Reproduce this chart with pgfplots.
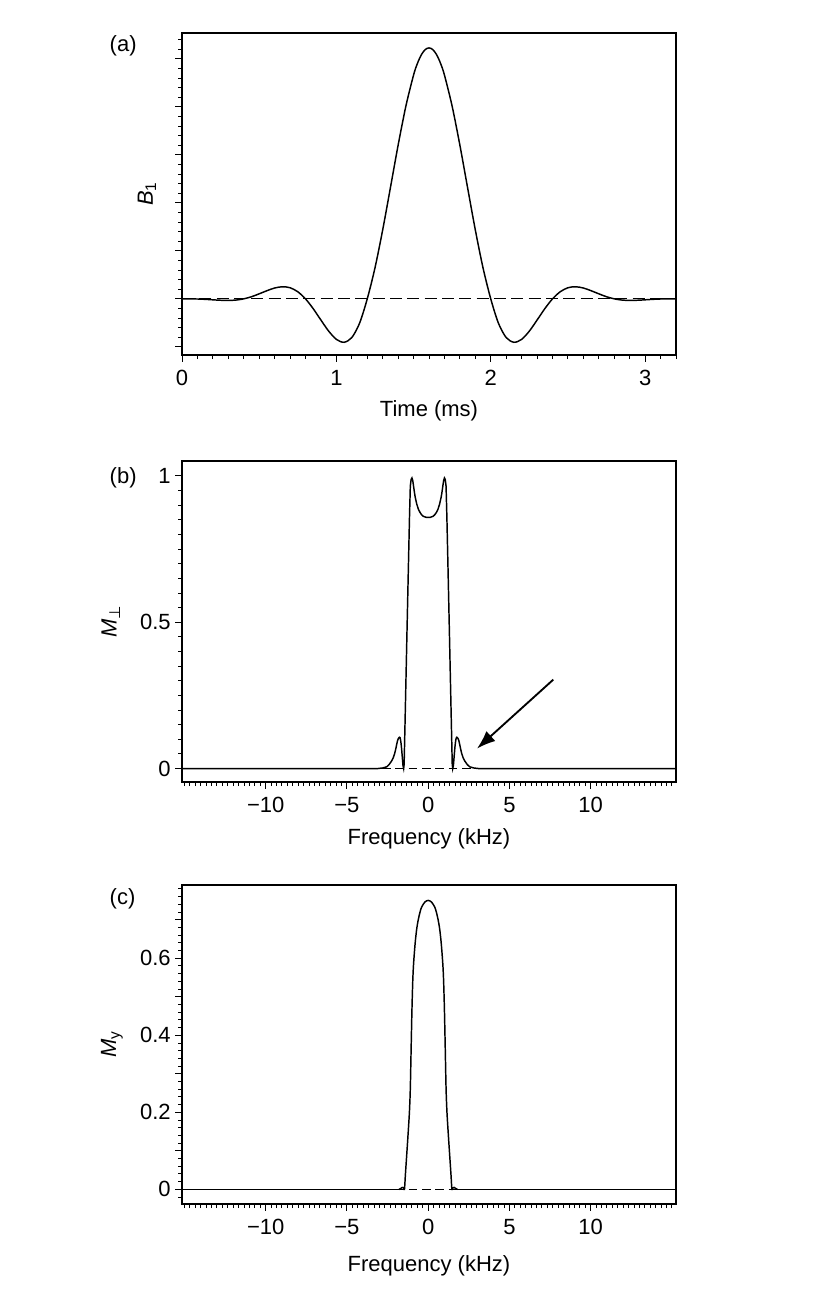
\documentclass[border=0pt]{standalone}
\usepackage{fontspec}
\setmainfont{Liberation Sans}
\newfontfamily\dejavu{DejaVu Sans}
\usepackage{pgfplots}
\pgfplotsset{compat=1.18}
\usetikzlibrary{arrows.meta}

\pgfplotsset{
  myaxis/.style={
    scale only axis,
    axis line style={line width=0.9pt},
    tick align=outside,
    tick pos=left,
    major tick length=5pt,
    minor tick length=3pt,
    tick style={line width=0.7pt, black},
    tick label style={font=\fontsize{16.5}{19}\selectfont},
    xticklabel style={yshift=-3pt},
    label style={font=\fontsize{16.5}{19}\selectfont},
    anchor=south west,
    width=370.5pt,
  },
  curve/.style={black, line width=1.1pt, no markers},
  base/.style={black, line width=0.9pt, dash pattern=on 6.5pt off 3.5pt, no markers},
}

\begin{document}
\begin{tikzpicture}
\useasboundingbox (0pt,0pt) rectangle (617.25pt,-977.25pt);

% ---------------- (a) ----------------
\begin{axis}[myaxis,
  at={(136.5pt,-266.25pt)}, height=241.5pt,
  xmin=0, xmax=3.2, ymin=-1.17, ymax=5.54,
  xtick={0,1,2,3}, xticklabels={0,1,2,3},
  minor xtick={0,0.1,...,3.2},
  ytick={-1,0,1,2,3,4,5}, yticklabels={{},{},{},{},{},{},{}},
  minor ytick={-1,-0.8,...,5.45},
  xlabel={Time (ms)},
  ylabel={\textit{B}\textsubscript{1}},
  xlabel style={at={(axis description cs:0.5,-0.174)}, anchor=center},
  ylabel style={at={(axis description cs:-0.071,0.5)}, anchor=center},
]
\addplot[base, dash pattern=on 9pt off 4pt] coordinates {(0,0) (3.2,0)};
\addplot[curve, smooth] coordinates {
(0.00,0) (0.05,-0.001) (0.10,-0.003) (0.15,-0.010) (0.20,-0.020) (0.25,-0.029)
(0.30,-0.033) (0.35,-0.025) (0.40,0) (0.45,0.044) (0.50,0.105) (0.55,0.170)
(0.60,0.226) (0.65,0.252) (0.70,0.232) (0.75,0.148) (0.80,0) (0.85,-0.205)
(0.90,-0.442) (0.95,-0.672) (1.00,-0.844) (1.05,-0.905) (1.10,-0.806) (1.15,-0.509)
(1.20,0) (1.25,0.645) (1.30,1.437) (1.35,2.316) (1.40,3.203) (1.45,4.013)
(1.50,4.664) (1.525,4.906) (1.55,5.084) (1.575,5.193) (1.60,5.23)
(1.625,5.193) (1.65,5.084) (1.675,4.906) (1.70,4.664) (1.75,4.013) (1.80,3.203)
(1.85,2.316) (1.90,1.437) (1.95,0.645) (2.00,0) (2.05,-0.509) (2.10,-0.806)
(2.15,-0.905) (2.20,-0.844) (2.25,-0.672) (2.30,-0.442) (2.35,-0.205) (2.40,0)
(2.45,0.148) (2.50,0.232) (2.55,0.252) (2.60,0.226) (2.65,0.170) (2.70,0.105)
(2.75,0.044) (2.80,0) (2.85,-0.025) (2.90,-0.033) (2.95,-0.029) (3.00,-0.020)
(3.05,-0.010) (3.10,-0.003) (3.15,-0.001) (3.20,0)
};
\end{axis}

% ---------------- (b) ----------------
\begin{axis}[myaxis,
  at={(136.5pt,-586.5pt)}, height=240.75pt,
  xmin=-15.15, xmax=15.25, ymin=-0.046, ymax=1.051,
  xtick={-10,-5,0,5,10}, xticklabels={−10,−5,0,5,10},
  minor xtick={-15,-14.66667,...,15.1},
  ytick={0,0.5,1}, yticklabels={0,0.5,1},
  minor ytick={0,0.05,...,1.02},
  xlabel={Frequency (kHz)},
  ylabel={\textit{M}\textsubscript{\dejavu ⊥}},
  xlabel style={at={(axis description cs:0.5,-0.176)}, anchor=center},
  ylabel style={at={(axis description cs:-0.144,0.5)}, anchor=center},
]
\addplot[base] coordinates {(-15.15,0) (15.25,0)};
\addplot[curve] coordinates {
(-15.15,0) (-3.1,0) (-2.8,0.002) (-2.55,0.006) (-2.4,0.014) (-2.25,0.026) (-2.15,0.037)
(-2.07,0.050) (-2.0,0.066) (-1.94,0.082) (-1.88,0.097) (-1.83,0.103) (-1.79,0.106)
(-1.76,0.107) (-1.73,0.105) (-1.70,0.098) (-1.67,0.086) (-1.64,0.070) (-1.61,0.050)
(-1.58,0.030) (-1.55,0.010) (-1.51,0.0) (-1.48,0.015) (-1.4,0.22) (-1.3,0.48)
(-1.2,0.735) (-1.15,0.86) (-1.1,0.965) (-1.05,0.988) (-1.0,0.993) (-0.95,0.984)
(-0.9,0.965) (-0.85,0.945) (-0.8,0.928) (-0.7,0.903) (-0.6,0.886) (-0.5,0.875)
(-0.4,0.867) (-0.3,0.862) (-0.2,0.860) (-0.1,0.858) (0,0.858)
(0.1,0.858) (0.2,0.860) (0.3,0.862) (0.4,0.867) (0.5,0.875) (0.6,0.886)
(0.7,0.903) (0.8,0.928) (0.85,0.945) (0.9,0.965) (0.95,0.984) (1.0,0.993)
(1.05,0.988) (1.1,0.965) (1.15,0.86) (1.2,0.735) (1.3,0.48) (1.4,0.22)
(1.48,0.015) (1.51,0.0) (1.55,0.010) (1.58,0.030) (1.61,0.050) (1.64,0.070)
(1.67,0.086) (1.70,0.098) (1.73,0.105) (1.76,0.107) (1.79,0.106) (1.83,0.103)
(1.88,0.097) (1.94,0.082) (2.0,0.066) (2.07,0.050) (2.15,0.037) (2.25,0.026)
(2.4,0.014) (2.55,0.006) (2.8,0.002) (3.1,0) (15.25,0)
};
\draw[-{Latex[length=14pt,width=10pt]}, line width=1.4pt] (axis cs:7.7,0.304) -- (axis cs:3.0,0.068);
\end{axis}

% ---------------- (c) ----------------
\begin{axis}[myaxis,
  at={(136.5pt,-903pt)}, height=239.25pt,
  xmin=-15.15, xmax=15.25, ymin=-0.038, ymax=0.79,
  xtick={-10,-5,0,5,10}, xticklabels={−10,−5,0,5,10},
  minor xtick={-15,-14.66667,...,15.1},
  ytick={0,0.1,0.2,0.3,0.4,0.5,0.6,0.7}, yticklabels={0,,0.2,,0.4,,0.6,},
  minor ytick={-0.02,0,...,0.78},
  xlabel={Frequency (kHz)},
  ylabel={\textit{M}\textsubscript{y}},
  xlabel style={at={(axis description cs:0.5,-0.194)}, anchor=center},
  ylabel style={at={(axis description cs:-0.142,0.5)}, anchor=center},
]
\addplot[base] coordinates {(-15.15,0) (15.25,0)};
\addplot[curve] coordinates {(-15.15,0) (-1.8,0)};
\addplot[curve] coordinates {(1.8,0) (15.25,0)};
\addplot[curve, smooth] coordinates {
(-1.8,0) (-1.7,0.002) (-1.6,0.005) (-1.52,0.004) (-1.46,0.0) (-1.4,0.040)
(-1.3,0.103) (-1.2,0.168) (-1.15,0.205) (-1.1,0.262) (-1.05,0.365) (-1.0,0.465)
(-0.95,0.540) (-0.9,0.585) (-0.8,0.640) (-0.7,0.678) (-0.6,0.702) (-0.5,0.720)
(-0.4,0.733) (-0.2,0.746) (0,0.750) (0.2,0.746) (0.4,0.733) (0.5,0.720)
(0.6,0.702) (0.7,0.678) (0.8,0.640) (0.9,0.585) (0.95,0.540) (1.0,0.465)
(1.05,0.365) (1.1,0.262) (1.15,0.205) (1.2,0.168) (1.3,0.103) (1.4,0.040)
(1.46,0.0) (1.52,0.004) (1.6,0.005) (1.7,0.002) (1.8,0)
};
\end{axis}

\node[anchor=west, font=\fontsize{16.5}{19}\selectfont] at (78.75pt,-34.5pt) {(a)};
\node[anchor=west, font=\fontsize{16.5}{19}\selectfont] at (78.75pt,-358.5pt) {(b)};
\node[anchor=west, font=\fontsize{16.5}{19}\selectfont] at (78.75pt,-673.9pt) {(c)};
\end{tikzpicture}
\end{document}
